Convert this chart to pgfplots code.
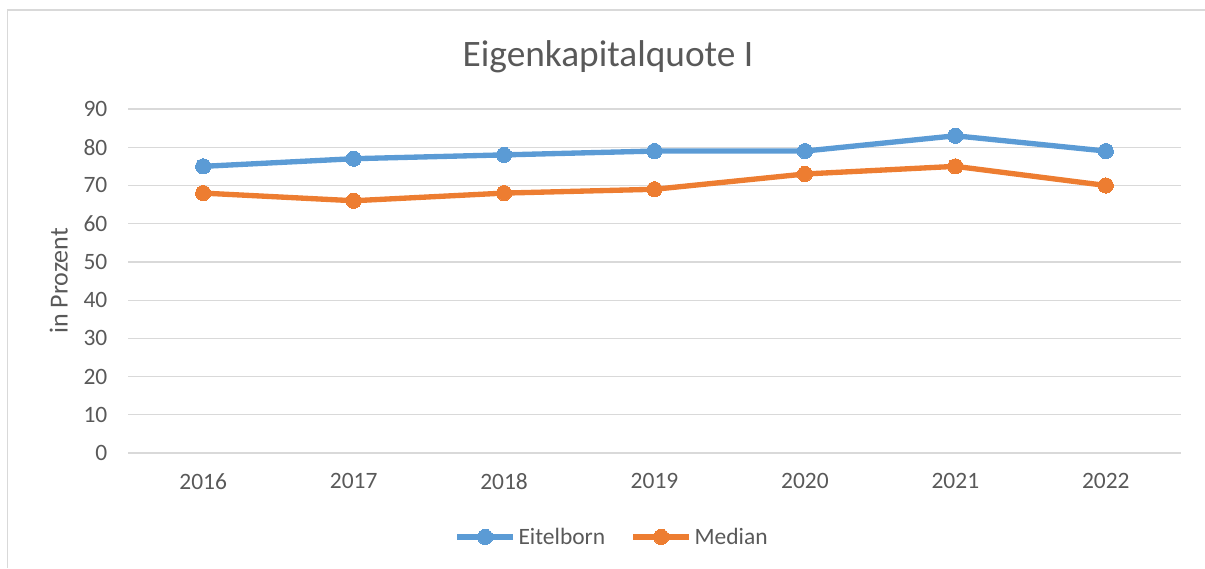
\documentclass[border=0pt]{standalone}
\usepackage{pgfplots}
\pgfplotsset{compat=1.18}
\usepackage{fontspec}
\setmainfont{Carlito}
\definecolor{cblue}{HTML}{5B9BD5}
\definecolor{corange}{HTML}{ED7D31}
\definecolor{ctext}{HTML}{595959}
\definecolor{cgrid}{HTML}{D9D9D9}
\begin{document}
\begin{tikzpicture}
\path[use as bounding box] (0pt,0pt) rectangle (903.75pt,426pt);
\draw[cgrid, line width=1.2pt] (5.6pt,0pt) -- (5.6pt,418.5pt) -- (903.75pt,418.5pt);
\begin{axis}[
  at={(96pt,86.25pt)}, anchor=south west,
  scale only axis, width=789.75pt, height=258pt,
  xmin=-0.5, xmax=6.5, ymin=0, ymax=90,
  xtick={0,...,6}, xticklabels={2016,2017,2018,2019,2020,2021,2022},
  ytick={0,10,...,90},
  axis line style={draw=none},
  major tick length=0pt,
  ymajorgrids, grid style={cgrid, line width=0.9pt},
  /pgf/number format/assume math mode=true,
  ticklabel style={font=\fontsize{17.6}{21}\selectfont, text=ctext},
  yticklabel style={xshift=-12pt},
  xticklabel style={yshift=-12pt},
  legend columns=2,
  legend style={draw=none, fill=none, at={(0.46,-0.244)}, anchor=center,
    font=\fontsize{17.6}{21}\selectfont, text=ctext,
    nodes={inner sep=2pt},
    /tikz/every even column/.append style={column sep=17pt}},
  legend image code/.code={\draw[mark repeat=2,mark phase=2,#1] plot coordinates {(0pt,0pt) (21pt,0pt) (42pt,0pt)};},
]
\addplot[cblue, line width=4pt, mark=*, mark size=5.7pt, mark options={line width=0pt}] coordinates {
(0,75) (1,77) (2,78) (3,79) (4,79) (5,83) (6,79)};
\addlegendentry{Eitelborn}
\addplot[corange, line width=4pt, mark=*, mark size=5.7pt, mark options={line width=0pt}] coordinates {
(0,68) (1,66) (2,68) (3,69) (4,73) (5,75) (6,70)};
\addlegendentry{Median}
\end{axis}
\node[text=ctext, font=\fontsize{28}{34}\selectfont] at (456pt,383.25pt) {Eigenkapitalquote I};
\node[text=ctext, font=\fontsize{19.5}{23}\selectfont, rotate=90] at (44pt,215.25pt) {in Prozent};
\end{tikzpicture}
\end{document}
